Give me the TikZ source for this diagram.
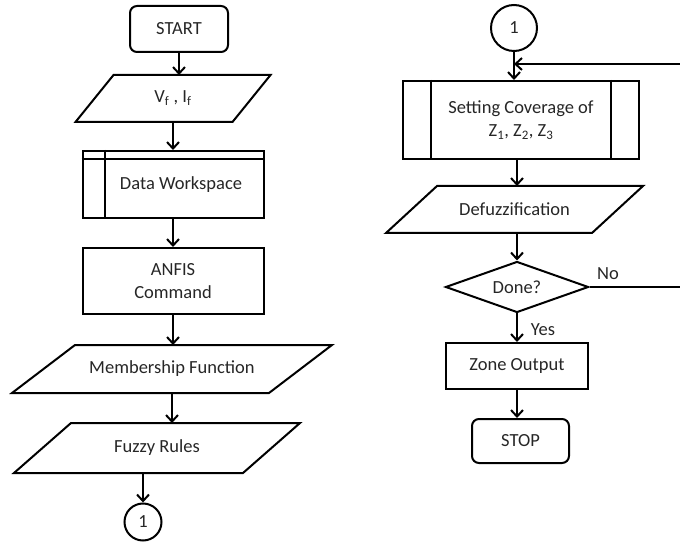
\documentclass[tikz,border=0pt]{standalone}
\usepackage{fontspec}
\setmainfont{Carlito}
\usetikzlibrary{arrows.meta,shapes.geometric,calc}
\newcommand\drawpara[2]{\draw ([xshift=#2pt]#1.north west) -- ([xshift=#2pt]#1.north east) -- ([xshift=-#2pt]#1.south east) -- ([xshift=-#2pt]#1.south west) -- cycle;}
\begin{document}
\begin{tikzpicture}[x=1pt,y=-1pt,line width=2pt,
  every node/.style={font=\fontsize{18.5}{23}\selectfont, text=black!85, inner sep=0pt, align=center},
  arr/.style={-{Straight Barb[length=6.5pt,width=12pt,line width=2pt]}},
  term/.style={draw, rounded corners=7pt},
  proc/.style={draw},
  io/.style={},
  conn/.style={draw, circle},
  dec/.style={draw, diamond, aspect=2.8},
  lbl/.style={}]
\useasboundingbox (0,0) rectangle (680,545);
% left column
\node[term, minimum width=98pt, minimum height=46pt] (start) at (179,29) {START};
\node[io, minimum width=155pt, minimum height=45pt] (vf) at (173,98.5) {V\textsubscript{f} , I\textsubscript{f}};
\drawpara{vf}{19}
\node[proc, minimum width=181pt, minimum height=67pt] (dw) at (173,184.5) {\hspace*{16pt}Data Workspace};
\draw ([xshift=23pt]dw.north west) -- ([xshift=23pt]dw.south west);
\draw ([yshift=-9pt]dw.north west) -- ([yshift=-9pt]dw.north east);
\node[proc, minimum width=181pt, minimum height=66pt] (anfis) at (173,281) {ANFIS\\Command};
\node[io, minimum width=255pt, minimum height=46pt] (mf) at (172,369) {Membership Function};
\drawpara{mf}{31.5}
\node[io, minimum width=227pt, minimum height=48pt] (fr) at (157,448) {Fuzzy Rules};
\drawpara{fr}{28.5}
\node[conn, minimum size=37pt] (c1) at (143,522) {1};
% right column
\node[conn, minimum size=46pt] (c2) at (514,28) {1};
\node[proc, minimum width=236pt, minimum height=78pt] (set) at (521,120) {Setting Coverage of\\Z\textsubscript{1}, Z\textsubscript{2}, Z\textsubscript{3}};
\draw ([xshift=29pt]set.north west) -- ([xshift=29pt]set.south west);
\draw ([xshift=-29pt]set.north east) -- ([xshift=-29pt]set.south east);
\node[io, minimum width=204pt, minimum height=45pt] (def) at (514.5,209.5) {Defuzzification};
\drawpara{def}{25.5}
\node[dec, minimum width=143pt, minimum height=51pt] (dn) at (517,287) {Done?};
\node[proc, minimum width=142pt, minimum height=46pt] (zone) at (517,366) {Zone Output};
\node[term, minimum width=97pt, minimum height=44pt] (stop) at (520.5,441) {STOP};
\node[lbl] (no) at (608,274) {No};
\node[lbl] (yes) at (543,330) {Yes};
\coordinate (join) at (514,64);
% connectors
\draw[arr] (start.south) -- (start.south |- vf.north);
\draw[arr] (vf.south) -- (dw.north);
\draw[arr] (dw.south) -- (anfis.north);
\draw[arr] (anfis.south) -- (anfis.south |- mf.north);
\draw[arr] (mf.south) -- (mf.south |- fr.north);
\draw[arr] (c1.north |- fr.south) -- (c1.north);
\draw[arr] (c2.south) -- (c2.south |- set.north);
\draw[arr] (dn.north |- set.south) -- (dn.north |- def.north);
\draw[arr] (dn.north |- def.south) -- (dn.north);
\draw[arr] (dn.south) -- (zone.north);
\draw[arr] (zone.south) -- (zone.south |- stop.north);
\draw[arr] (dn.east) -- ++(112,0) |- (join);
\end{tikzpicture}
\end{document}
